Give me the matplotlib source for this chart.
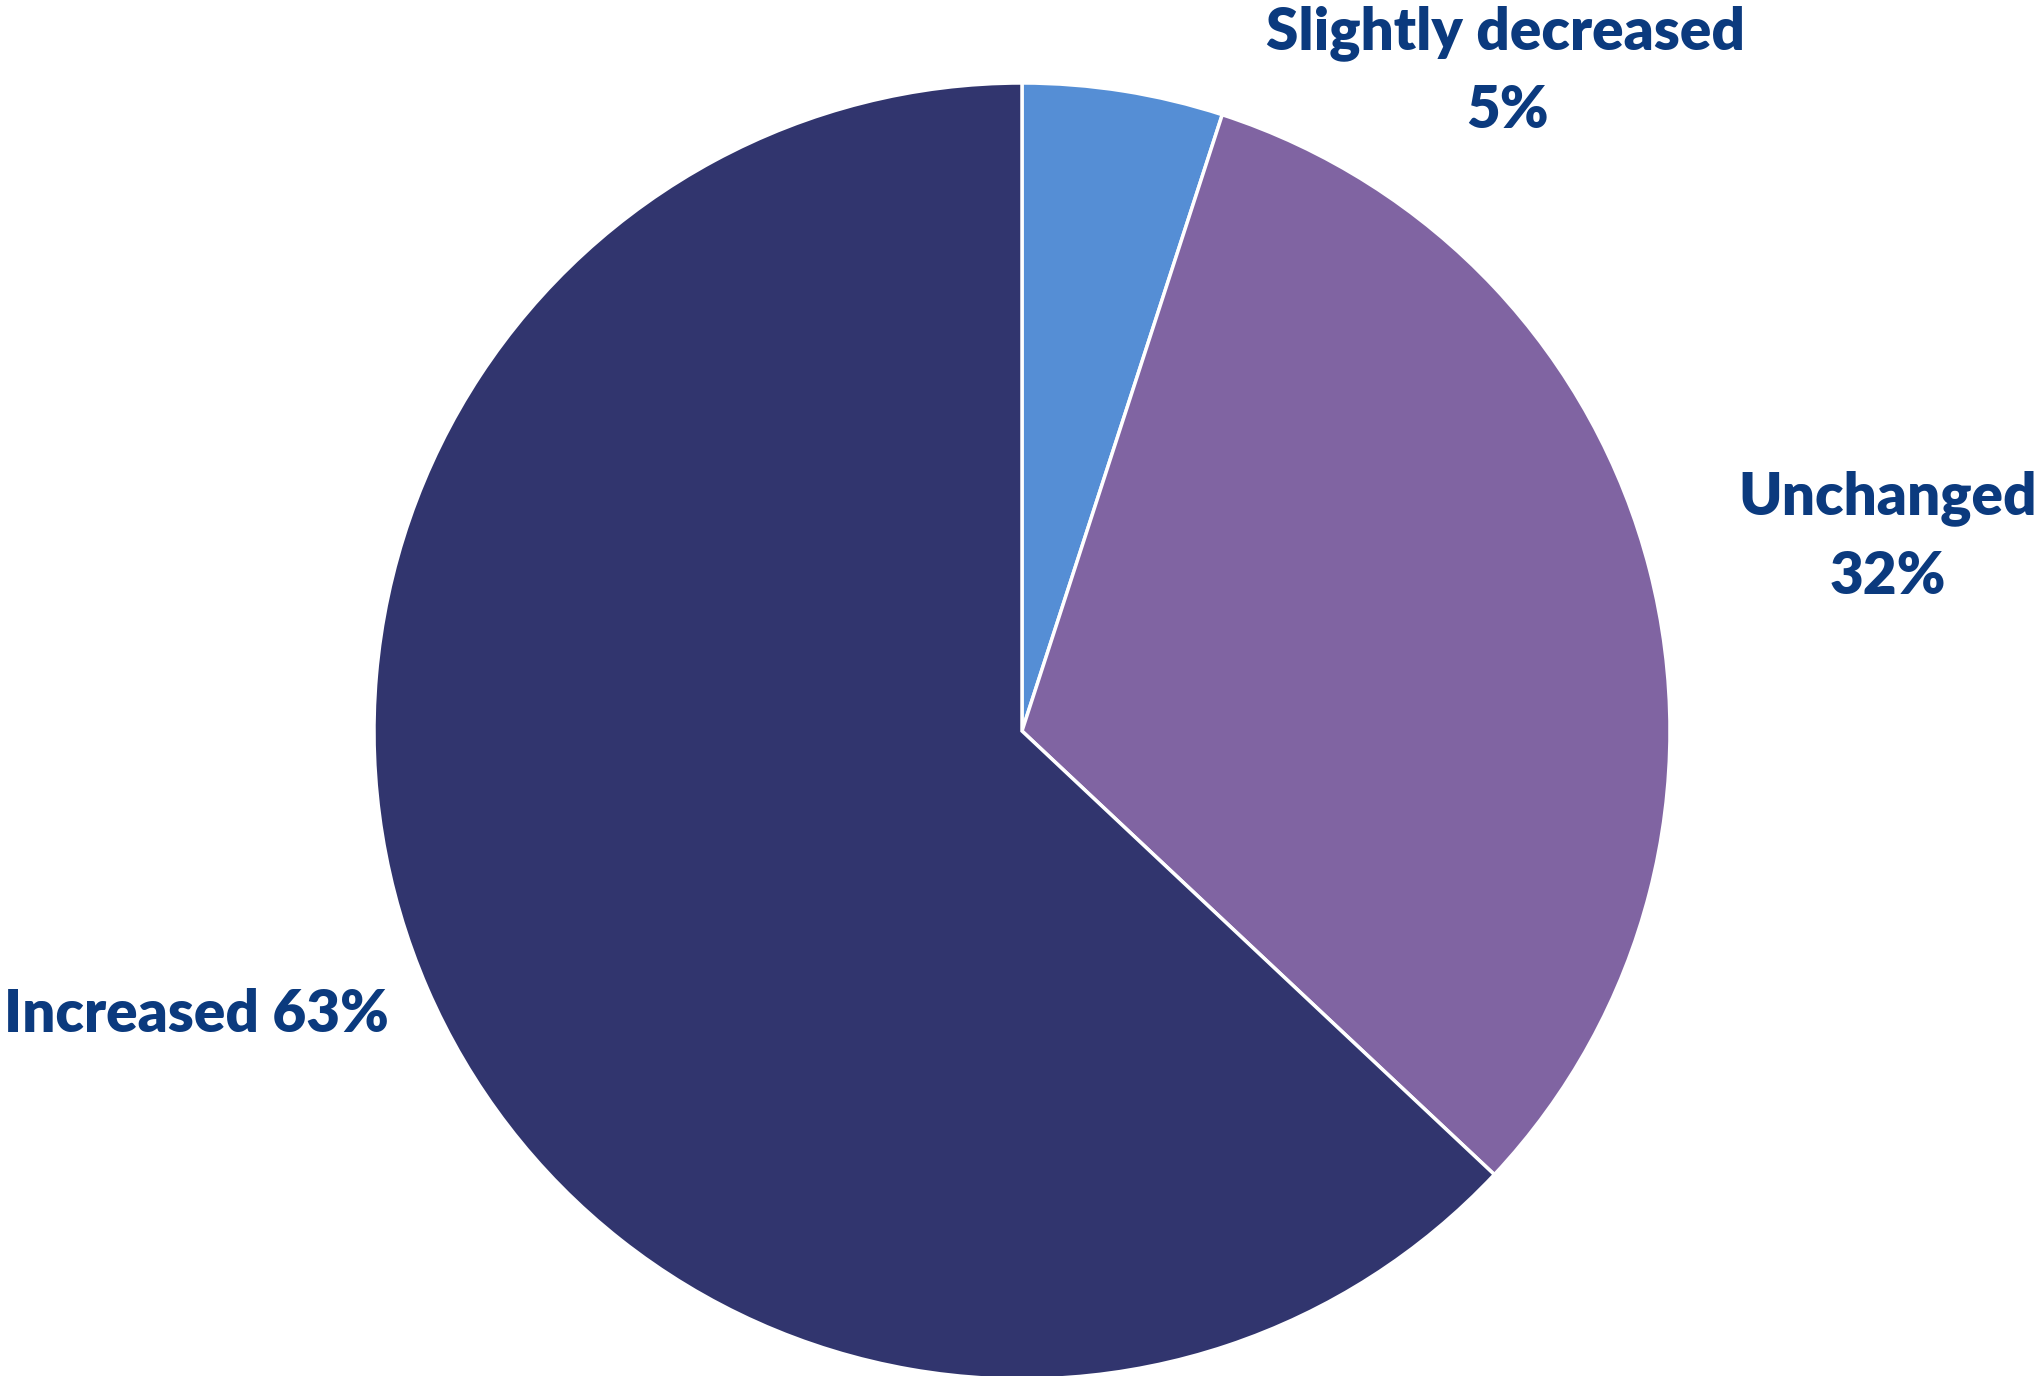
import matplotlib
matplotlib.use("Agg")
import matplotlib.pyplot as plt

categories = ["Slightly decreased", "Unchanged", "Increased"]
values = [5, 32, 63]
colors = ["#558ED5", "#8064A2", "#31356E"]
label_color = "#0B3A7E"

W, H = 2039, 1376
fig = plt.figure(figsize=(W / 100, H / 100), dpi=100)
ax = fig.add_axes([0, 0, 1, 1])

cx, cy, r = 1022, H - 731, 648
ax.pie(values, colors=colors, startangle=90, counterclock=False,
       center=(cx, cy), radius=r, frame=True,
       wedgeprops=dict(edgecolor="white", linewidth=2.5))
ax.set_xlim(0, W)
ax.set_ylim(0, H)
ax.set_aspect("equal")
ax.axis("off")

font = dict(family=["Lato", "DejaVu Sans"], fontweight="heavy", fontsize=42, color=label_color)
ax.text(1506, H - 33, categories[0], ha="center", va="center", **font)
ax.text(1508, H - 110, f"{values[0]}%", ha="center", va="center", **font)
ax.text(1888, H - 498, categories[1], ha="center", va="center", **font)
ax.text(1888, H - 576, f"{values[1]}%", ha="center", va="center", **font)
ax.text(4, H - 1015, f"{categories[2]} {values[2]}%", ha="left", va="center", **font)

fig.savefig("out.png", dpi=100)
